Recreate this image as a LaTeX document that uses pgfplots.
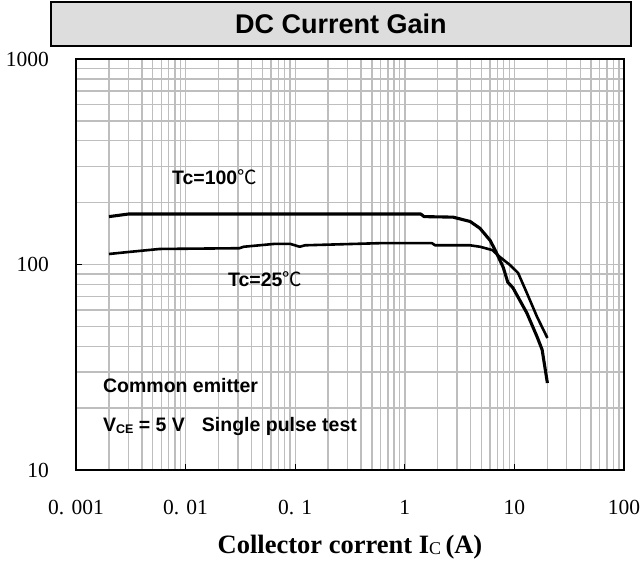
\documentclass[border=0pt]{standalone}
\usepackage{fontspec}
\setmainfont{Liberation Serif}
\newfontfamily\arial{Liberation Sans}
\newfontfamily\cjk{Noto Sans CJK SC}
\usepackage{pgfplots}
\pgfplotsset{compat=1.18}
\definecolor{gridgray}{RGB}{190,190,190}
\definecolor{titlegray}{RGB}{221,221,221}

\newcommand{\ticksize}{\fontsize{21.5bp}{21.5bp}\selectfont}
\newcommand{\notesize}{\arial\bfseries\fontsize{19.5bp}{19.5bp}\selectfont}

\begin{document}
\begin{tikzpicture}[x=1bp,y=1bp]
\useasboundingbox (-76,-94) rectangle (568,470);
\begin{axis}[
    at={(0,0)}, anchor=south west,
    scale only axis, width=548bp, height=411bp,
    xmode=log, ymode=log,
    xmin=0.001, xmax=100, ymin=10, ymax=1000,
    xtick={0.001,0.01,0.1,1,10,100},
    xticklabels={0. 001,0. 01,0. 1,1,10,100},
    ytick={10,100,1000},
    yticklabels={10,100,1000},
    grid=both,
    major grid style={gridgray, line width=1.4bp},
    minor grid style={gridgray, line width=1.4bp},
    tick align=inside, xtick pos=bottom, ytick pos=left,
    major tick length=6bp, minor tick length=0pt,
    major tick style={black, line width=1bp},
    axis line style={black, line width=1.5bp},
    xticklabel style={font=\ticksize, anchor=north, inner sep=0pt, yshift=-30bp},
    yticklabel style={font=\ticksize, anchor=east, inner sep=0pt, xshift=-27bp},
    every axis x label/.style={at={(axis description cs:0.5,0)}, anchor=center, yshift=-77bp,
        font=\fontsize{26.5bp}{26.5bp}\selectfont},
    xlabel={\textbf{Collector corrent I}{\fontsize{18bp}{18bp}\selectfont\raisebox{-1bp}{C}}\textbf{\,(A)}},
    clip=false,
]
% Tc = 100 C
\addplot[black, line width=3.1bp, line join=round] coordinates {
    (0.002,171) (0.003,176) (0.1,176) (1.4,176) (1.5,171) (2.75,170)
    (3.94,162) (4.85,150) (6.0,131) (6.65,118) (7.9,97) (8.7,82)
    (9.7,77) (13,58) (16.1,44.5) (17.9,38.5) (20,26.5)
};
% Tc = 25 C
\addplot[black, line width=2.6bp, line join=round] coordinates {
    (0.002,112.5) (0.003,115) (0.0058,119) (0.031,120) (0.034,122)
    (0.065,126) (0.09,126) (0.11,122) (0.123,124) (0.6,127) (1.77,127)
    (1.89,124) (3.94,124) (4.85,122) (6.3,117.5) (7.4,108.6) (9.1,99.5)
    (10.8,91) (13,72.6) (16.1,55.6) (20,43.9)
};

\node[anchor=west, inner sep=0pt, font=\notesize] at (axis cs:0.0075,267) {Tc=100{\cjk\mdseries ℃}};
\node[anchor=west, inner sep=0pt, font=\notesize] at (axis cs:0.0243,85) {Tc=25{\cjk\mdseries ℃}};
\node[anchor=west, inner sep=0pt, font=\notesize] at (axis cs:0.00176,25.9) {Common emitter};
\node[anchor=west, inner sep=0pt, font=\notesize] at (axis cs:0.00176,16.2)
    {V{\fontsize{12.5bp}{12.5bp}\selectfont\raisebox{-2bp}{CE}} = 5 V\hspace{17bp}Single pulse test};
\end{axis}

\draw[line width=2.5bp, fill=titlegray] (-25,424) rectangle (555,468);
\node[font=\arial\bfseries\fontsize{27bp}{27bp}\selectfont] at (265,446) {DC Current Gain};
\end{tikzpicture}
\end{document}
